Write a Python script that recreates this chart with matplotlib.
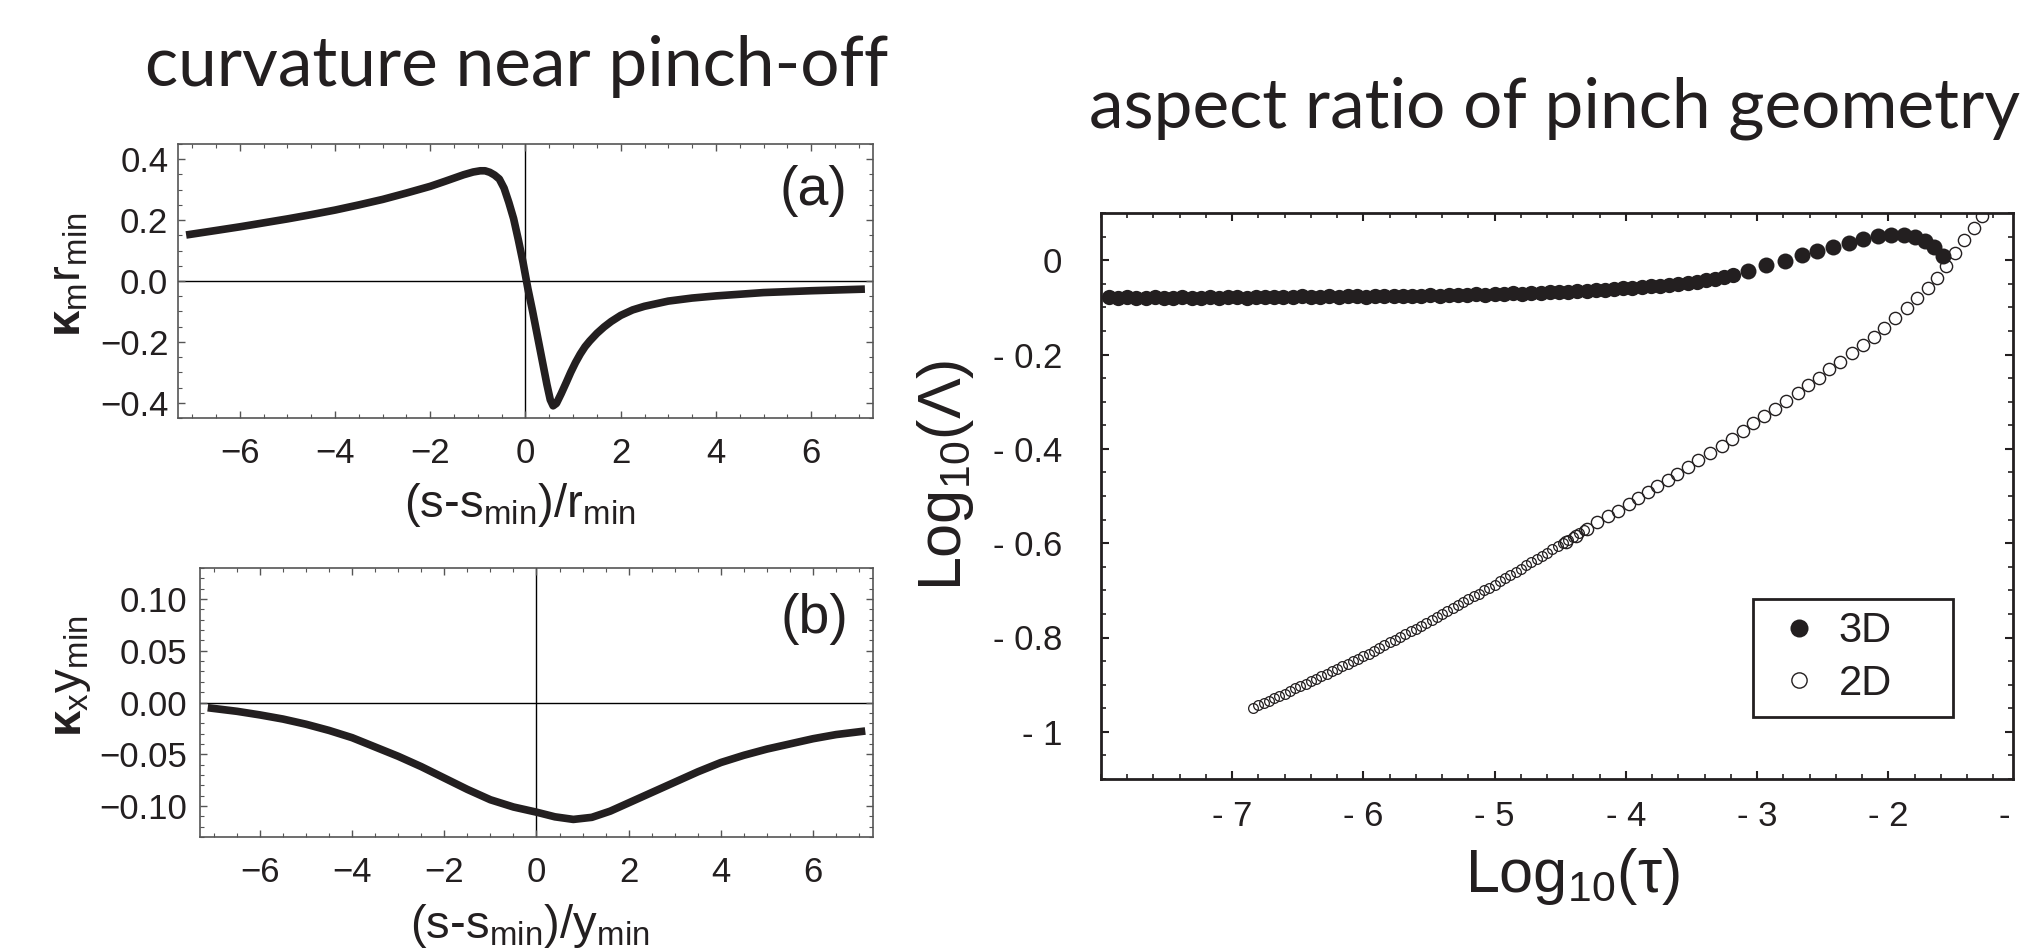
import matplotlib.pyplot as plt
import matplotlib.transforms as mtransforms
from matplotlib.lines import Line2D
from matplotlib.ticker import MultipleLocator

plt.rcParams["font.family"] = ["Liberation Sans", "DejaVu Sans"]
plt.rcParams["mathtext.fontset"] = "custom"
plt.rcParams["mathtext.rm"] = "Liberation Sans"
plt.rcParams["mathtext.it"] = "Liberation Sans:italic"
plt.rcParams["mathtext.bf"] = "Liberation Sans:bold"

INK = "#231f20"

# (a) mean curvature near pinch-off
xa = [-7.05, -6.5, -6.0, -5.5, -5.0, -4.5, -4.0, -3.5, -3.0, -2.5, -2.0, -1.7,
      -1.5, -1.3, -1.1, -0.95, -0.85, -0.75, -0.65, -0.55, -0.45, -0.35, -0.25,
      -0.15, -0.05, 0.05, 0.15, 0.25, 0.35, 0.45, 0.52, 0.58, 0.65, 0.75, 0.86,
      0.95, 1.05, 1.15, 1.25, 1.35, 1.5, 1.65, 1.8, 2.0, 2.25, 2.5, 3.0, 3.5,
      4.0, 5.0, 6.0, 7.05]
ya = [0.153, 0.166, 0.178, 0.191, 0.204, 0.218, 0.233, 0.250, 0.268, 0.289,
      0.311, 0.327, 0.338, 0.349, 0.358, 0.362, 0.362, 0.357, 0.348, 0.335,
      0.305, 0.258, 0.205, 0.135, 0.060, -0.025, -0.100, -0.180, -0.260,
      -0.340, -0.390, -0.410, -0.402, -0.370, -0.332, -0.300, -0.268, -0.240,
      -0.216, -0.197, -0.172, -0.151, -0.133, -0.113, -0.095, -0.083, -0.066,
      -0.056, -0.049, -0.038, -0.032, -0.027]

# (b) curvature in x
xb = [-7.05, -6.5, -6.0, -5.5, -5.0, -4.5, -4.0, -3.5, -3.0, -2.5, -2.0, -1.5,
      -1.0, -0.5, 0.0, 0.4, 0.8, 1.2, 1.6, 2.0, 2.5, 3.0, 3.5, 4.0, 4.5, 5.0,
      5.5, 6.0, 6.5, 7.05]
yb = [-0.0055, -0.0085, -0.012, -0.016, -0.021, -0.027, -0.034, -0.043, -0.052,
      -0.062, -0.073, -0.084, -0.094, -0.101, -0.106, -0.1105, -0.113, -0.111,
      -0.105, -0.097, -0.087, -0.077, -0.067, -0.058, -0.051, -0.045, -0.040,
      -0.035, -0.031, -0.028]

# aspect ratio, 3D (filled)
x3d_dense = [-7.94, -7.87, -7.80, -7.73, -7.66, -7.59, -7.52, -7.45, -7.38, -7.31,
             -7.24, -7.17, -7.10, -7.03, -6.96, -6.89, -6.82, -6.75, -6.68, -6.61,
             -6.54, -6.47, -6.40, -6.33, -6.26, -6.19, -6.12, -6.05, -5.98, -5.91,
             -5.84, -5.77, -5.70, -5.63, -5.56, -5.49, -5.42, -5.35, -5.28, -5.21,
             -5.14, -5.07, -5.00, -4.93, -4.86, -4.79, -4.72, -4.65, -4.58, -4.51,
             -4.44, -4.37, -4.30, -4.23, -4.16, -4.09, -4.02, -3.95, -3.88, -3.81,
             -3.74, -3.67, -3.60, -3.53, -3.46, -3.39, -3.32, -3.25, -3.18]
y3d_dense = [-0.079, -0.080, -0.079, -0.081, -0.080, -0.079, -0.080, -0.081, -0.079, -0.080,
             -0.080, -0.079, -0.081, -0.079, -0.078, -0.080, -0.079, -0.078, -0.079, -0.078,
             -0.079, -0.077, -0.078, -0.079, -0.077, -0.078, -0.076, -0.077, -0.078, -0.076,
             -0.077, -0.075, -0.076, -0.075, -0.076, -0.074, -0.075, -0.073, -0.074, -0.073,
             -0.072, -0.073, -0.071, -0.072, -0.070, -0.071, -0.069, -0.070, -0.068, -0.067,
             -0.067, -0.066, -0.065, -0.064, -0.063, -0.062, -0.060, -0.059, -0.057, -0.055,
             -0.054, -0.052, -0.050, -0.048, -0.046, -0.043, -0.040, -0.036, -0.032]
x3d_sparse = [-3.07, -2.93, -2.79, -2.66, -2.54, -2.42, -2.30, -2.19, -2.08, -1.98,
              -1.88, -1.80, -1.72, -1.65, -1.58]
y3d_sparse = [-0.022, -0.011, -0.001, 0.010, 0.019, 0.028, 0.037, 0.045, 0.051, 0.054,
              0.053, 0.049, 0.040, 0.027, 0.008]

# aspect ratio, 2D (open)
x2d_dense = [-6.84, -6.80, -6.76, -6.72, -6.68, -6.64, -6.60, -6.56, -6.52,
             -6.48, -6.44, -6.40, -6.36, -6.32, -6.28, -6.24, -6.20, -6.16, -6.12, -6.08, -6.04, -6.00,
             -5.96, -5.92, -5.88, -5.84, -5.80, -5.76, -5.72, -5.68, -5.64, -5.60, -5.56, -5.52, -5.48,
             -5.44, -5.40, -5.36, -5.32, -5.28, -5.24, -5.20, -5.16, -5.12, -5.08, -5.04, -5.00,
             -4.96, -4.92, -4.88, -4.84, -4.80, -4.76, -4.72, -4.68, -4.64, -4.60, -4.56, -4.52,
             -4.48, -4.44, -4.40, -4.36, -4.32]
y2d_dense = [-0.949, -0.944, -0.939, -0.934, -0.929, -0.924, -0.919, -0.913, -0.908,
             -0.903, -0.898, -0.893, -0.887, -0.882, -0.877, -0.871, -0.866, -0.861, -0.856, -0.850, -0.845, -0.840,
             -0.834, -0.828, -0.822, -0.816, -0.810, -0.805, -0.799, -0.793, -0.787, -0.781, -0.775, -0.769, -0.763,
             -0.757, -0.750, -0.744, -0.738, -0.732, -0.725, -0.719, -0.713, -0.707, -0.700, -0.694, -0.688,
             -0.681, -0.674, -0.668, -0.661, -0.654, -0.647, -0.640, -0.633, -0.627, -0.620, -0.613, -0.606,
             -0.599, -0.593, -0.586, -0.579, -0.572]
x2d_sparse = [-4.46, -4.38, -4.30, -4.22, -4.14, -4.06, -3.98, -3.91, -3.83, -3.76,
              -3.68, -3.61, -3.53, -3.45, -3.36, -3.27, -3.19, -3.11, -3.03, -2.95,
              -2.86, -2.78, -2.69, -2.61, -2.53, -2.45, -2.37, -2.28, -2.19, -2.11,
              -2.03, -1.95, -1.86, -1.78, -1.70, -1.63, -1.56, -1.49, -1.42, -1.35,
              -1.29, -1.24]
y2d_sparse = [-0.597, -0.584, -0.570, -0.556, -0.542, -0.532, -0.517, -0.505, -0.491, -0.479,
              -0.466, -0.454, -0.439, -0.424, -0.409, -0.394, -0.380, -0.362, -0.346, -0.330,
              -0.316, -0.298, -0.282, -0.265, -0.249, -0.231, -0.216, -0.197, -0.180, -0.162,
              -0.143, -0.122, -0.102, -0.081, -0.058, -0.037, -0.012, 0.016, 0.043, 0.069,
              0.094, 0.112]

a_xticks = [-6, -4, -2, 0, 2, 4, 6]
a_xticklabels = ["\u22126", "\u22124", "\u22122", "0", "2", "4", "6"]
a_yticks = [-0.4, -0.2, 0.0, 0.2, 0.4]
a_yticklabels = ["\u22120.4", "\u22120.2", "0.0", "0.2", "0.4"]
b_yticks = [-0.10, -0.05, 0.0, 0.05, 0.10]
b_yticklabels = ["\u22120.10", "\u22120.05", "0.00", "0.05", "0.10"]
c_xticks = [-7, -6, -5, -4, -3, -2]
c_xticklabels = ["- 7", "- 6", "- 5", "- 4", "- 3", "- 2"]
c_yticks = [-1.0, -0.8, -0.6, -0.4, -0.2, 0.0]
c_yticklabels = ["- 1", "- 0.8", "- 0.6", "- 0.4", "- 0.2", "0"]

W, H = 2021, 950
fig = plt.figure(figsize=(W / 100, H / 100), dpi=100)


def rect(left, top, right, bottom):
    return [left / W, (H - bottom) / H, (right - left) / W, (bottom - top) / H]


def curve_panel(ax, x, y, ylim):
    ax.axhline(0, color="black", lw=1.0, zorder=1)
    ax.axvline(0, color="black", lw=1.0, zorder=1)
    ax.plot(x, y, color=INK, lw=5.5, zorder=3)
    ax.set_xlim(-7.3, 7.3)
    ax.set_ylim(*ylim)
    ax.set_xticks(a_xticks, a_xticklabels)
    ax.xaxis.set_minor_locator(MultipleLocator(0.5))
    ax.tick_params(which="both", direction="in", top=True, right=True,
                   color="#555555", labelsize=25, labelcolor=INK)
    ax.tick_params(which="major", length=5, width=1.0)
    ax.tick_params(which="minor", length=3, width=0.8)
    for s in ax.spines.values():
        s.set_linewidth(1.2)
        s.set_color("#555555")


# panel (a)
ax_a = fig.add_axes(rect(178, 144, 873, 418))
curve_panel(ax_a, xa, ya, (-0.45, 0.45))
ax_a.set_yticks(a_yticks, a_yticklabels)
ax_a.yaxis.set_minor_locator(MultipleLocator(0.05))
ax_a.tick_params(axis="x", which="both", pad=14)
ax_a.tick_params(axis="y", which="both", pad=7)
ax_a.text(0.915, 0.83, "(a)", transform=ax_a.transAxes, fontsize=40,
          ha="center", va="center", color=INK)
fig.text(520 / W, (H - 517) / H, r"(s-s$_\mathregular{min}$)/r$_\mathregular{min}$",
         fontsize=34, ha="center", va="baseline", color=INK)
fig.text(69 / W, (H - 275) / H, r"$\mathbf{κ}_\mathregular{m}$r$_\mathregular{min}$",
         fontsize=34, rotation=90, ha="center", va="center", color=INK)

# panel (b)
ax_b = fig.add_axes(rect(200, 568, 873, 837))
curve_panel(ax_b, xb, yb, (-0.13, 0.13))
ax_b.set_yticks(b_yticks, b_yticklabels)
ax_b.yaxis.set_minor_locator(MultipleLocator(0.01))
ax_b.tick_params(axis="x", which="both", pad=14)
ax_b.tick_params(axis="y", which="both", pad=9)
ax_b.text(0.913, 0.81, "(b)", transform=ax_b.transAxes, fontsize=40,
          ha="center", va="center", color=INK)
fig.text(530 / W, (H - 938) / H, r"(s-s$_\mathregular{min}$)/y$_\mathregular{min}$",
         fontsize=34, ha="center", va="baseline", color=INK)
fig.text(71 / W, (H - 676) / H, r"$\mathbf{κ}_\mathregular{x}$y$_\mathregular{min}$",
         fontsize=34, rotation=90, ha="center", va="center", color=INK)

# aspect ratio panel
ax_c = fig.add_axes(rect(1101, 213, 2013, 779))
ax_c.plot(x3d_dense, y3d_dense, "o", ls="none", ms=11.0, color=INK, mew=0)
ax_c.plot(x3d_sparse, y3d_sparse, "o", ls="none", ms=11.5, color=INK, mew=0)
ax_c.plot(x2d_dense, y2d_dense, "o", ls="none", ms=7.0, mfc="none", mec=INK, mew=0.9)
ax_c.plot(x2d_sparse, y2d_sparse, "o", ls="none", ms=8.8, mfc="none", mec=INK, mew=1.0)
ax_c.set_xlim(-8.0, -1.05)
ax_c.set_ylim(-1.1, 0.1)
ax_c.set_xticks(c_xticks, c_xticklabels)
ax_c.set_yticks(c_yticks, c_yticklabels)
ax_c.xaxis.set_minor_locator(MultipleLocator(0.2))
ax_c.yaxis.set_minor_locator(MultipleLocator(0.05))
ax_c.tick_params(which="both", direction="in", top=True, right=True,
                 color=INK, labelsize=25, labelcolor=INK)
ax_c.tick_params(which="major", length=6, width=1.5)
ax_c.tick_params(which="minor", length=3.5, width=1.2)
ax_c.tick_params(axis="x", which="both", pad=15)
ax_c.tick_params(axis="y", which="both", pad=28)
for s in ax_c.spines.values():
    s.set_linewidth(2.0)
    s.set_color(INK)
# the "- 1" tick sits just past the right edge and is cut by the figure
ax_c.text(-1.0, 0, "- 1", fontsize=25, color=INK, ha="center", va="top", clip_on=False,
          transform=ax_c.get_xaxis_transform()
          + mtransforms.ScaledTranslation(0, -15 / 72, fig.dpi_scale_trans))

handles = [Line2D([], [], marker="o", ls="none", ms=13, color=INK, mew=0),
           Line2D([], [], marker="o", ls="none", ms=11, mfc="none", mec=INK, mew=1.0)]
leg = ax_c.legend(handles, ["3D", "2D"], loc="upper left", mode="expand",
                  bbox_to_anchor=(1753 / W, (H - 727) / H, 200 / W, 128 / H),
                  bbox_transform=fig.transFigure, borderaxespad=0, fontsize=30,
                  fancybox=False, framealpha=1, edgecolor=INK, handlelength=1.6,
                  handletextpad=0.15, labelspacing=0.3, borderpad=0.3)
leg.get_frame().set_linewidth(2.0)
for t in leg.get_texts():
    t.set_color(INK)

fig.text(1572 / W, (H - 892) / H, r"Log$_\mathregular{10}$(τ)", fontsize=44,
         ha="center", va="baseline", color=INK)
fig.text(945 / W, (H - 475) / H, r"Log$_\mathregular{10}$(Λ)", fontsize=44,
         rotation=90, ha="center", va="center", color=INK)

# slide titles
fig.text(517 / W, (H - 86) / H, "curvature near pinch-off", fontsize=50,
         family="Lato", ha="center", va="baseline", color=INK)
fig.text(1555 / W, (H - 127) / H, "aspect ratio of pinch geometry", fontsize=50,
         family="Lato", ha="center", va="baseline", color=INK)

fig.savefig("out.png", dpi=100, facecolor="white")
